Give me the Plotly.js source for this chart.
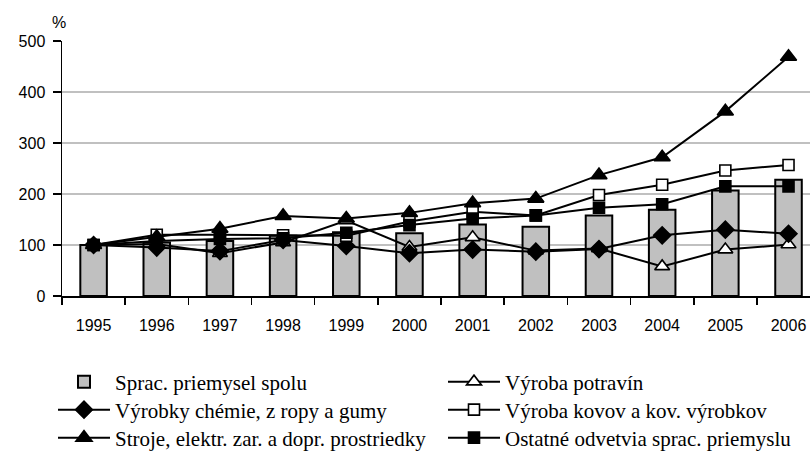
<!DOCTYPE html>
<html>
<head>
<meta charset="utf-8">
<script src="https://cdn.plot.ly/plotly-3.0.1.min.js"></script>
<style>html,body{margin:0;padding:0;background:#fff;}#chart{width:810px;height:453px;}</style>
</head>
<body>
<div id="chart"></div>
<script>
const years = ['1995','1996','1997','1998','1999','2000','2001','2002','2003','2004','2005','2006'];
const spolu   = [100, 105, 108, 118, 125, 123, 140, 136, 158, 169, 207, 228];
const potravin = [100, 102, 84, 105, 148, 96, 115, 89, 93, 58, 91, 101];
const chemie  = [100, 95, 88, 110, 98, 84, 91, 87, 92, 119, 130, 122];
const kovov   = [100, 120, 120, 119, 118, 146, 165, 158, 198, 218, 246, 257];
const stroje  = [100, 116, 132, 157, 152, 163, 182, 191, 237, 272, 362, 469];
const ostatne = [100, 108, 112, 113, 124, 139, 152, 158, 173, 180, 215, 215];
const names = [
  'Sprac. priemysel spolu',
  'Výroba potravín',
  'Výrobky chémie, z ropy a gumy',
  'Výroba kovov a kov. výrobkov',
  'Stroje, elektr. zar. a dopr. prostriedky',
  'Ostatné odvetvia sprac. priemyslu'
];

const W = 810, H = 453;
const lineStyle = {color: '#000', width: 2};
function sc(y, name, legend, symbol, size, fill) {
  return {
    type: 'scatter', mode: 'lines+markers', x: years, y: y, name: name, legend: legend,
    line: lineStyle,
    marker: {symbol: symbol, size: size, color: fill, line: {color: '#000', width: 1.6}}
  };
}
const data = [
  {type: 'bar', x: years, y: spolu, name: names[0], legend: 'legend', width: 0.42,
   marker: {color: '#c0c0c0', line: {color: '#000', width: 2}}},
  sc(potravin, names[1], 'legend2', 'triangle-up', 13, '#fff'),
  sc(chemie, names[2], 'legend3', 'diamond', 13, '#000'),
  sc(kovov, names[3], 'legend4', 'square', 11, '#fff'),
  sc(stroje, names[4], 'legend5', 'triangle-up', 14, '#000'),
  sc(ostatne, names[5], 'legend6', 'square', 11, '#000')
];

const legFont = {family: '"Liberation Serif", "Times New Roman", serif', size: 21, color: '#000'};
function leg(xpx, ypx) {
  return {x: xpx / W, y: 1 - ypx / H, xref: 'container', yref: 'container', xanchor: 'left', yanchor: 'middle',
    orientation: 'v', font: legFont, itemwidth: 52, bgcolor: 'rgba(0,0,0,0)', borderwidth: 0,
    itemclick: false, itemdoubleclick: false};
}
const colX = [53, 443];
const rowY = [382, 410, 438];

const tickFont = {family: '"Liberation Sans", Arial, sans-serif', size: 16, color: '#000'};
const layout = {
  width: W, height: H,
  margin: {l: 62, r: 0, t: 41, b: 157, autoexpand: false},
  paper_bgcolor: '#fff', plot_bgcolor: '#fff',
  xaxis: {
    type: 'category', range: [-0.5, 11.34], tickson: 'boundaries', ticks: 'outside', ticklen: 7,
    tickwidth: 1.5, tickcolor: '#000', showline: true, linecolor: '#000', linewidth: 1.5,
    showgrid: false, zeroline: false, tickfont: tickFont, ticklabelstandoff: 14, tickangle: 0,
    automargin: false, fixedrange: true
  },
  yaxis: {
    range: [0, 500], dtick: 100, tick0: 0, ticks: 'outside', ticklen: 8, tickwidth: 1.5, tickcolor: '#000',
    showline: true, linecolor: '#000', linewidth: 1.5, gridcolor: '#c0c0c0', gridwidth: 1.5,
    zeroline: false, tickfont: tickFont, ticklabelstandoff: 4, automargin: false, fixedrange: true
  },
  showlegend: true,
  legend: leg(colX[0], rowY[0]),
  legend2: leg(colX[1], rowY[0]),
  legend3: leg(colX[0], rowY[1]),
  legend4: leg(colX[1], rowY[1]),
  legend5: leg(colX[0], rowY[2]),
  legend6: leg(colX[1], rowY[2]),
  annotations: [{
    text: '%', xref: 'paper', yref: 'paper', x: -3 / 748, y: (296 - 22) / 255,
    xanchor: 'center', yanchor: 'middle', showarrow: false, font: tickFont
  }]
};
Plotly.newPlot('chart', data, layout, {displayModeBar: false, staticPlot: true});
</script>
</body>
</html>
